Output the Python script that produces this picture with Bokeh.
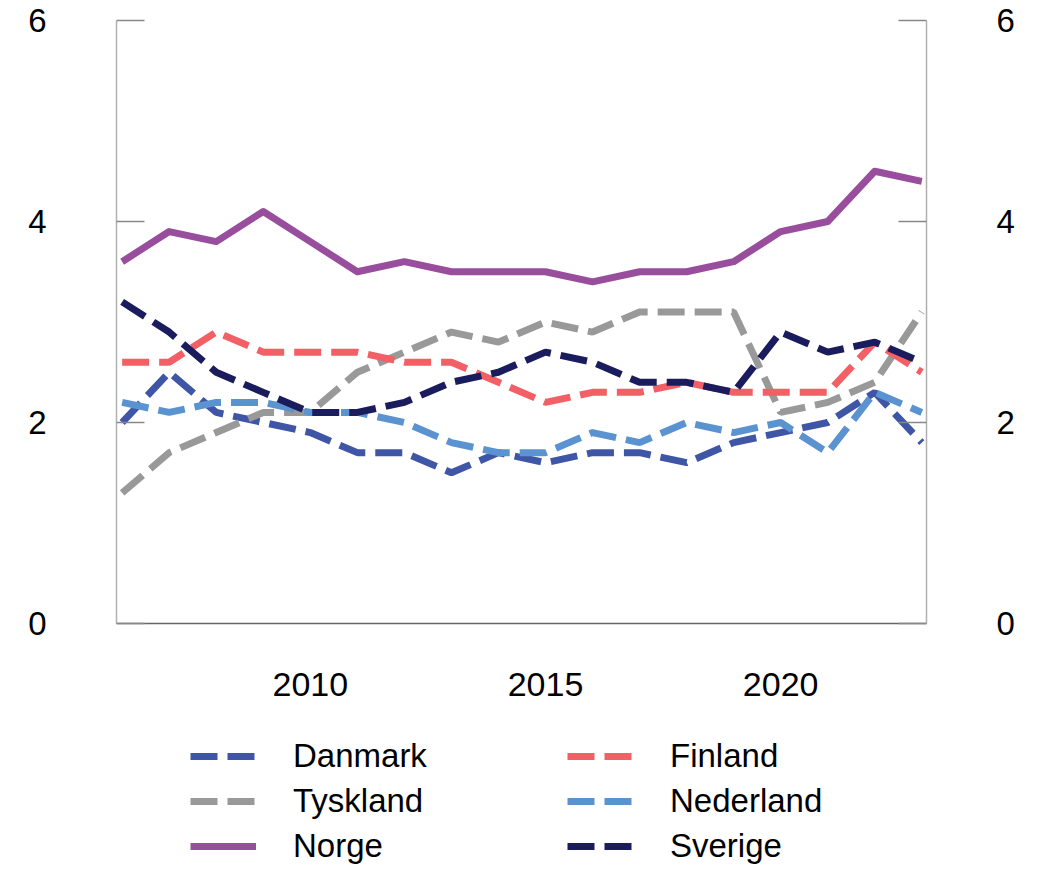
from bokeh.plotting import figure
from bokeh.layouts import column
from bokeh.models import Range1d, LinearAxis, FixedTicker, Legend, LegendItem
from bokeh.embed import file_html
from bokeh.resources import INLINE

years = list(range(2006, 2024))
danmark = [2.0, 2.5, 2.1, 2.0, 1.9, 1.7, 1.7, 1.5, 1.7, 1.6, 1.7, 1.7, 1.6, 1.8, 1.9, 2.0, 2.3, 1.8]
finland = [2.6, 2.6, 2.9, 2.7, 2.7, 2.7, 2.6, 2.6, 2.4, 2.2, 2.3, 2.3, 2.4, 2.3, 2.3, 2.3, 2.8, 2.5]
tyskland = [1.3, 1.7, 1.9, 2.1, 2.1, 2.5, 2.7, 2.9, 2.8, 3.0, 2.9, 3.1, 3.1, 3.1, 2.1, 2.2, 2.4, 3.1]
nederland = [2.2, 2.1, 2.2, 2.2, 2.1, 2.1, 2.0, 1.8, 1.7, 1.7, 1.9, 1.8, 2.0, 1.9, 2.0, 1.7, 2.3, 2.1]
norge = [3.6, 3.9, 3.8, 4.1, 3.8, 3.5, 3.6, 3.5, 3.5, 3.5, 3.4, 3.5, 3.5, 3.6, 3.9, 4.0, 4.5, 4.4]
sverige = [3.2, 2.9, 2.5, 2.3, 2.1, 2.1, 2.2, 2.4, 2.5, 2.7, 2.6, 2.4, 2.4, 2.3, 2.9, 2.7, 2.8, 2.6]

series_names = ["Danmark", "Tyskland", "Norge", "Finland", "Nederland", "Sverige"]
colors = {"Danmark": "#3F55A5", "Tyskland": "#999999", "Norge": "#984E9D",
          "Finland": "#F26066", "Nederland": "#5B93D0", "Sverige": "#1A1C5E"}

y_ticks = [0, 2, 4, 6]
x_ticks = [2010, 2015, 2020]

FONT = "Liberation Sans"
FS = "34px"
DASH = "27 10"
W = 7

data = {"Danmark": danmark, "Tyskland": tyskland, "Finland": finland,
        "Nederland": nederland, "Sverige": sverige, "Norge": norge}

p = figure(width=1025, height=715, output_backend="svg", toolbar_location=None,
           x_range=Range1d(2005.88, 2023.1), y_range=Range1d(0, 6),
           min_border_left=116, min_border_right=99, min_border_top=20,
           min_border_bottom=92, x_axis_location=None, y_axis_location=None)
p.outline_line_color = None
p.xgrid.visible = False
p.ygrid.visible = False

def style_y(ax):
    ax.ticker = FixedTicker(ticks=y_ticks)
    ax.major_tick_in = 28
    ax.major_tick_out = 0
    ax.minor_tick_in = 0
    ax.minor_tick_out = 0
    ax.axis_line_color = "#b0b0b0"
    ax.axis_line_width = 1.5
    ax.major_tick_line_color = "#888888"
    ax.major_tick_line_width = 1.5
    ax.major_label_standoff = 70
    ax.major_label_text_font = FONT
    ax.major_label_text_font_size = "33px"
    ax.major_label_text_color = "black"

yl = LinearAxis()
style_y(yl)
p.add_layout(yl, "left")
yr = LinearAxis()
style_y(yr)
p.add_layout(yr, "right")

xb = LinearAxis(ticker=FixedTicker(ticks=x_ticks))
xb.major_tick_in = 0
xb.major_tick_out = 0
xb.minor_tick_in = 0
xb.minor_tick_out = 0
xb.axis_line_color = "#666666"
xb.axis_line_width = 1.5
xb.major_label_standoff = 49
xb.major_label_text_font = FONT
xb.major_label_text_font_size = FS
xb.major_label_text_color = "black"
p.add_layout(xb, "below")

for name in ["Danmark", "Tyskland", "Finland", "Nederland", "Sverige", "Norge"]:
    if name == "Norge":
        p.line(years, data[name], line_color=colors[name], line_width=W, line_join="round")
    else:
        p.line(years, data[name], line_color=colors[name], line_width=W, line_dash=DASH)

# legend panel below the chart (its frame is aligned with the chart frame)
p2 = figure(width=1025, height=151, output_backend="svg", toolbar_location=None,
            x_range=Range1d(0, 1), y_range=Range1d(0, 1),
            min_border_left=0, min_border_right=0, min_border_top=0, min_border_bottom=0,
            x_axis_location=None, y_axis_location=None)
p2.outline_line_color = None
p2.xgrid.visible = False
p2.ygrid.visible = False

items = []
for name in series_names:
    if name == "Norge":
        r = p2.line(years, data[name], line_color=colors[name], line_width=W)
    else:
        r = p2.line(years, data[name], line_color=colors[name], line_width=W, line_dash=DASH)
    items.append(LegendItem(label=name, renderers=[r]))

def mk_leg(its, x):
    return Legend(items=its, location=(x, 0), orientation="vertical",
                  glyph_width=66, glyph_height=40, label_height=40,
                  label_standoff=37, spacing=5, padding=0, margin=0,
                  border_line_color=None, background_fill_alpha=0,
                  label_text_font=FONT, label_text_font_size="33px",
                  label_text_color="black")

p2.add_layout(mk_leg(items[:3], 74), "center")
p2.add_layout(mk_leg(items[3:], 451), "center")

open("out.html", "w").write(file_html(column(p, p2, spacing=0), INLINE))
